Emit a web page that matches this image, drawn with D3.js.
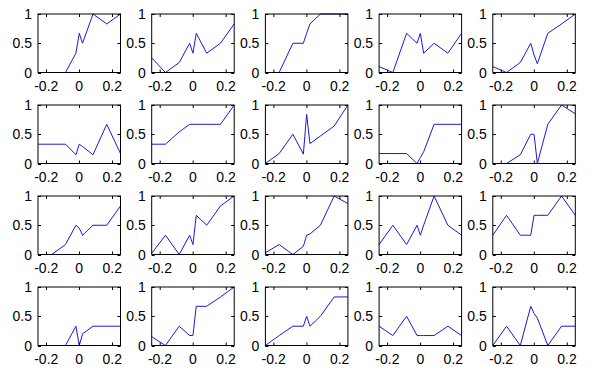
<!DOCTYPE html>
<html>
<head>
<meta charset="utf-8">
<script src="https://cdn.jsdelivr.net/npm/d3@7"></script>
<style>
  body { margin: 0; background: #fff; }
  svg { display: block; }
  .tick-label { font-family: "Liberation Sans", Arial, sans-serif; font-size: 14px; fill: #000; }
</style>
</head>
<body>
<div id="chart"></div>
<script>
// shared x positions of every sample
var xGrid = [-0.25, -0.1667, -0.0833, -0.02, 0, 0.02, 0.0833, 0.1667, 0.25];
var xTicks = [-0.2, 0, 0.2];
var yTicks = [0, 0.5, 1];
var xTickLabels = ["-0.2", "0", "0.2"];
var yTickLabels = ["0", "0.5", "1"];

// one array of y values per panel, five panels per row
var row1 = [
  [0, 0, 0, 0.33, 0.67, 0.5, 1, 0.83, 1],
  [0.25, 0, 0.17, 0.5, 0.33, 0.67, 0.33, 0.5, 0.83],
  [0, 0, 0.5, 0.5, 0.67, 0.83, 1, 1, 1],
  [0.1, 0, 0.67, 0.5, 0.67, 0.33, 0.5, 0.33, 0.67],
  [0.1, 0, 0.17, 0.5, 0.3, 0.15, 0.67, 0.83, 1]
];
var row2 = [
  [0.33, 0.33, 0.33, 0.15, 0.33, 0.29, 0.15, 0.67, 0.17],
  [0.33, 0.33, 0.54, 0.67, 0.67, 0.67, 0.67, 0.67, 1],
  [0, 0.17, 0.5, 0.16, 0.84, 0.34, 0.47, 0.64, 1],
  [0.17, 0.17, 0.17, 0, 0.1, 0.2, 0.67, 0.67, 0.67],
  [0, 0, 0.15, 0.5, 0.5, 0, 0.67, 1, 0.85]
];
var row3 = [
  [0, 0, 0.17, 0.5, 0.45, 0.33, 0.5, 0.5, 0.83],
  [0.02, 0.33, 0, 0.33, 0.17, 0.67, 0.5, 0.83, 1],
  [0.03, 0.17, 0, 0.14, 0.33, 0.35, 0.5, 1, 0.87],
  [0.17, 0.5, 0.17, 0.5, 0.33, 0.5, 1, 0.5, 0.33],
  [0.33, 0.67, 0.33, 0.33, 0.67, 0.67, 0.67, 1, 0.67]
];
var row4 = [
  [0, 0, 0, 0.33, 0, 0.2, 0.33, 0.33, 0.33],
  [0.15, 0, 0.33, 0.17, 0.17, 0.67, 0.67, 0.83, 1],
  [0, 0.17, 0.33, 0.33, 0.5, 0.33, 0.5, 0.83, 0.83],
  [0.33, 0.17, 0.5, 0.17, 0.17, 0.17, 0.17, 0.33, 0.17],
  [0, 0.33, 0, 0.67, 0.55, 0.47, 0, 0.33, 0.33]
];
var rows = [row1, row2, row3, row4];

var W = 606, H = 377;
var left0 = 38, colStep = 113.7, panelW = 82.5;
var top0 = 14, rowStep = 91, panelH = 58.5;
var tickLen = 3;

var svg = d3.select("#chart").append("svg")
  .attr("width", W)
  .attr("height", H);

var x = d3.scaleLinear().domain([-0.25, 0.25]).range([0, panelW]);
var y = d3.scaleLinear().domain([0, 1]).range([panelH, 0]);

var line = d3.line()
  .x(function(d, i) { return x(xGrid[i]); })
  .y(function(d) { return y(d); });

rows.forEach(function(row, r) {
  row.forEach(function(vals, c) {
    var g = svg.append("g")
      .attr("transform", "translate(" + (left0 + c * colStep) + "," + (top0 + r * rowStep) + ")");

    g.append("path")
      .datum(vals)
      .attr("fill", "none")
      .attr("stroke", "#1a1ad6")
      .attr("stroke-width", 1)
      .attr("d", line);

    // ticks inside on all four sides
    var tk = g.append("g").attr("stroke", "#000").attr("stroke-width", 1);
    xTicks.forEach(function(t) {
      var px = Math.round(x(t)) + 0.5;
      tk.append("line").attr("x1", px).attr("x2", px).attr("y1", panelH).attr("y2", panelH - tickLen);
      tk.append("line").attr("x1", px).attr("x2", px).attr("y1", 0).attr("y2", tickLen);
    });
    yTicks.forEach(function(t) {
      var py = Math.round(y(t)) + 0.5;
      tk.append("line").attr("x1", 0).attr("x2", tickLen).attr("y1", py).attr("y2", py);
      tk.append("line").attr("x1", panelW).attr("x2", panelW - tickLen).attr("y1", py).attr("y2", py);
    });

    g.append("rect")
      .attr("x", 0)
      .attr("y", 0)
      .attr("width", panelW)
      .attr("height", panelH)
      .attr("fill", "none")
      .attr("stroke", "#000")
      .attr("stroke-width", 1);

    g.selectAll(".xl")
      .data(xTicks)
      .enter().append("text")
      .attr("class", "tick-label")
      .attr("x", function(d) { return x(d); })
      .attr("y", panelH + 18)
      .attr("text-anchor", "middle")
      .text(function(d, i) { return xTickLabels[i]; });

    g.selectAll(".yl")
      .data(yTicks)
      .enter().append("text")
      .attr("class", "tick-label")
      .attr("x", -6)
      .attr("y", function(d) { return y(d) + 5; })
      .attr("text-anchor", "end")
      .text(function(d, i) { return yTickLabels[i]; });
  });
});
</script>
</body>
</html>
